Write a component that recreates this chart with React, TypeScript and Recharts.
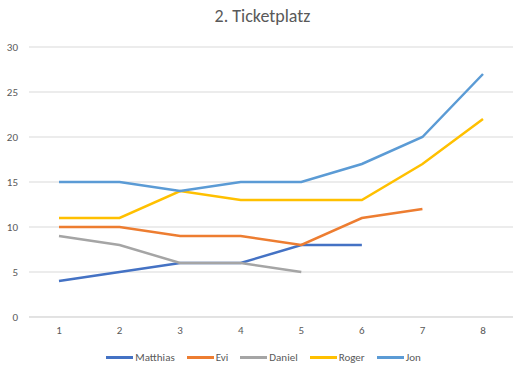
import React from 'react';
import { LineChart, Line, XAxis, YAxis, CartesianGrid, Legend } from 'recharts';

const rounds = ['1', '2', '3', '4', '5', '6', '7', '8'];
const matthias = [4, 5, 6, 6, 8, 8, null, null];
const evi = [10, 10, 9, 9, 8, 11, 12, null];
const daniel = [9, 8, 6, 6, 5, null, null, null];
const roger = [11, 11, 14, 13, 13, 13, 17, 22];
const jon = [15, 15, 14, 15, 15, 17, 20, 27];
const yTicks = [0, 5, 10, 15, 20, 25, 30];

const players = [
  { name: 'Matthias', color: '#4472C4' },
  { name: 'Evi', color: '#ED7D31' },
  { name: 'Daniel', color: '#A5A5A5' },
  { name: 'Roger', color: '#FFC000' },
  { name: 'Jon', color: '#5B9BD5' },
];

const chartData = rounds.map((r, i) => ({
  round: r,
  Matthias: matthias[i],
  Evi: evi[i],
  Daniel: daniel[i],
  Roger: roger[i],
  Jon: jon[i],
}));

const font = 'Calibri, Carlito, "Open Sans", sans-serif';
const tickStyle = { fontSize: 11, fill: '#595959', fontFamily: font };

const renderLegend = () => (
  <div style={{ height: 20, display: 'flex', justifyContent: 'center', alignItems: 'center', paddingLeft: 14, fontFamily: font, fontSize: 11, color: '#595959' }}>
    {players.map((p, i) => (
      <div key={p.name} style={{ display: 'flex', alignItems: 'center', marginRight: i < players.length - 1 ? 12 : 0 }}>
        <div style={{ width: 27, height: 3, background: p.color, marginRight: 2 }} />
        <span>{p.name}</span>
      </div>
    ))}
  </div>
);

const App: React.FC = () => {
  return (
    <div style={{ position: 'absolute', left: 0, top: 0, width: 525, height: 376, background: '#fff' }}>
      <div
        style={{
          position: 'absolute',
          top: 5,
          left: 0,
          width: 525,
          textAlign: 'center',
          fontSize: 18,
          color: '#595959',
          fontFamily: font,
        }}
      >
        2. Ticketplatz
      </div>
      <LineChart width={525} height={376} data={chartData} margin={{ top: 47, right: 12, bottom: 9, left: 0 }}>
        <CartesianGrid vertical={false} stroke="#d9d9d9" />
        <XAxis
          dataKey="round"
          padding={{ left: 30, right: 30 }}
          axisLine={{ stroke: '#d9d9d9' }}
          tickLine={false}
          tick={tickStyle}
          tickMargin={3}
          height={30}
        />
        <YAxis
          domain={[0, 30]}
          ticks={yTicks}
          axisLine={false}
          tickLine={false}
          tick={tickStyle}
          tickMargin={5}
          width={29}
        />
        <Legend content={renderLegend} height={20} />
        {players.map((p) => (
          <Line
            key={p.name}
            dataKey={p.name}
            stroke={p.color}
            strokeWidth={2.5}
            dot={false}
            isAnimationActive={false}
          />
        ))}
      </LineChart>
    </div>
  );
};

export default App;
